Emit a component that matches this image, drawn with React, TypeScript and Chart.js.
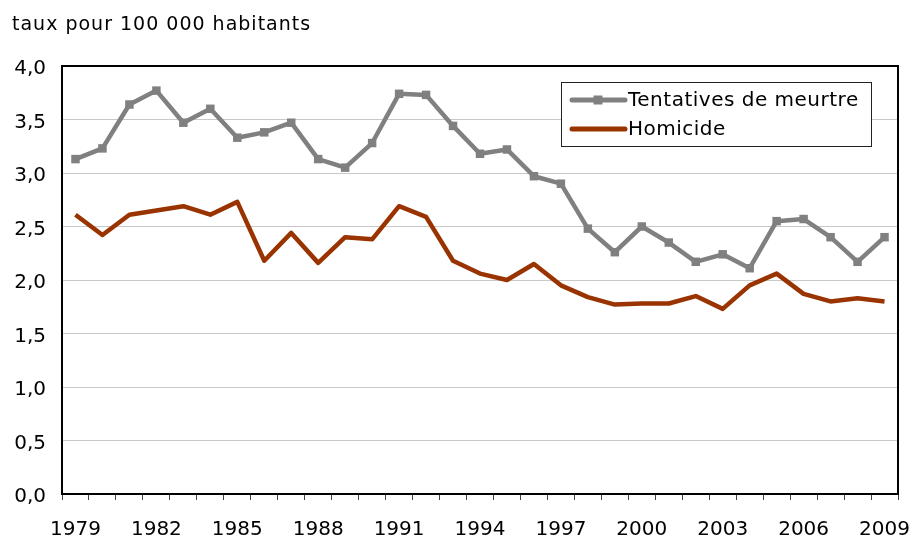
import React, { useEffect, useRef } from "react";
import { Chart, registerables } from "chart.js";

Chart.register(...registerables);

const TITLE = "taux pour 100 000 habitants";
const YEARS: string[] = [
  "1979","1980","1981","1982","1983","1984","1985","1986","1987","1988",
  "1989","1990","1991","1992","1993","1994","1995","1996","1997","1998",
  "1999","2000","2001","2002","2003","2004","2005","2006","2007","2008","2009",
];
const TENTATIVES: number[] = [
  3.13, 3.23, 3.64, 3.77, 3.47, 3.60, 3.33, 3.38, 3.47, 3.13,
  3.05, 3.28, 3.74, 3.73, 3.44, 3.18, 3.22, 2.97, 2.90, 2.48,
  2.26, 2.50, 2.35, 2.17, 2.24, 2.11, 2.55, 2.57, 2.40, 2.17, 2.40,
];
const HOMICIDE: number[] = [
  2.61, 2.42, 2.61, 2.65, 2.69, 2.61, 2.73, 2.18, 2.44, 2.16,
  2.40, 2.38, 2.69, 2.59, 2.18, 2.06, 2.00, 2.15, 1.95, 1.84,
  1.77, 1.78, 1.78, 1.85, 1.73, 1.95, 2.06, 1.87, 1.80, 1.83, 1.80,
];
const SERIES_LABELS = ["Tentatives de meurtre", "Homicide"];
const COLORS = ["#808080", "#993300"];

const FONT = "'DejaVu Sans', Verdana, sans-serif";

const framePlugin = {
  id: "frame",
  beforeDatasetsDraw(chart: any) {
    const { ctx, chartArea: a } = chart;
    ctx.save();
    ctx.strokeStyle = "#000";
    ctx.lineWidth = 2;
    ctx.strokeRect(a.left, a.top, a.right - a.left, a.bottom - a.top);
    ctx.restore();
  },
};

const titlePlugin = {
  id: "customTitle",
  afterDraw(chart: any) {
    const { ctx } = chart;
    ctx.save();
    ctx.font = `19px ${FONT}`;
    (ctx as any).letterSpacing = "1px";
    ctx.fillStyle = "#000";
    ctx.textBaseline = "alphabetic";
    ctx.textAlign = "left";
    ctx.fillText(TITLE, 12, 30);
    ctx.restore();
  },
};

const legendPlugin = {
  id: "customLegend",
  afterDraw(chart: any) {
    const { ctx, chartArea: a } = chart;
    const x0 = a.right - 337;
    const y0 = a.top + 16;
    const w = 310;
    const h = 64;
    ctx.save();
    ctx.fillStyle = "#fff";
    ctx.fillRect(x0, y0, w, h);
    ctx.strokeStyle = "#222";
    ctx.lineWidth = 1;
    ctx.strokeRect(x0 + 0.5, y0 + 0.5, w, h);
    chart.data.datasets.forEach((ds: any, i: number) => {
      const cy = y0 + 18 + i * 29;
      ctx.strokeStyle = ds.borderColor;
      ctx.lineWidth = 5;
      ctx.lineCap = "round";
      ctx.beginPath();
      ctx.moveTo(x0 + 11, cy);
      ctx.lineTo(x0 + 64, cy);
      ctx.stroke();
      if (ds.pointRadius > 0) {
        ctx.fillStyle = ds.pointBackgroundColor;
        ctx.fillRect(x0 + 37 - 4.5, cy - 4.5, 9, 9);
      }
      ctx.fillStyle = "#000";
      ctx.font = `20px ${FONT}`;
      (ctx as any).letterSpacing = "0.5px";
      ctx.textBaseline = "middle";
      ctx.textAlign = "left";
      ctx.fillText(ds.label, x0 + 67, cy + 1);
    });
    ctx.restore();
  },
};

export default function App() {
  const ref = useRef<HTMLCanvasElement | null>(null);
  useEffect(() => {
    if (!ref.current) return;
    const chart = new Chart(ref.current, {
      type: "line",
      data: {
        labels: YEARS,
        datasets: [
          {
            label: SERIES_LABELS[0],
            data: TENTATIVES,
            borderColor: COLORS[0],
            backgroundColor: COLORS[0],
            pointBackgroundColor: COLORS[0],
            pointBorderColor: COLORS[0],
            pointStyle: "rect",
            pointRadius: 6,
            pointBorderWidth: 0,
            borderWidth: 4.5,
            tension: 0,
            borderJoinStyle: "round",
          },
          {
            label: SERIES_LABELS[1],
            data: HOMICIDE,
            borderColor: COLORS[1],
            backgroundColor: COLORS[1],
            pointBackgroundColor: COLORS[1],
            pointRadius: 0,
            borderWidth: 4.5,
            tension: 0,
            borderJoinStyle: "round",
          },
        ],
      },
      options: {
        animation: false,
        responsive: true,
        maintainAspectRatio: false,
        layout: { padding: { top: 66, right: 17, bottom: 0, left: 0 } },
        plugins: {
          legend: { display: false },
          title: { display: false },
          tooltip: { enabled: false },
        },
        scales: {
          x: {
            type: "category",
            offset: true,
            afterFit(scale: any) {
              scale.height = 42;
              scale.paddingLeft = 0;
              scale.paddingRight = 0;
            },
            border: { display: false },
            grid: {
              display: true,
              drawOnChartArea: false,
              drawTicks: true,
              tickLength: 6,
              offset: true,
              color: "#444",
              lineWidth: 1,
            },
            ticks: {
              autoSkip: false,
              maxRotation: 0,
              minRotation: 0,
              padding: 18,
              color: "#000",
              font: { family: FONT, size: 20 },
              callback: (_v: any, i: number) => (i % 3 === 0 ? YEARS[i] : ""),
            },
          },
          y: {
            min: 0,
            max: 4,
            afterFit(scale: any) {
              scale.width = 62;
              scale.paddingTop = 0;
              scale.paddingBottom = 0;
            },
            border: { display: false },
            grid: {
              color: "#c8c8c8",
              lineWidth: 1,
              drawTicks: false,
            },
            ticks: {
              stepSize: 0.5,
              padding: 16,
              labelOffset: 3,
              color: "#000",
              font: { family: FONT, size: 20 },
              callback: (v: any) => Number(v).toFixed(1).replace(".", ","),
            },
          },
        },
      },
      plugins: [framePlugin, titlePlugin, legendPlugin],
    } as any);
    return () => chart.destroy();
  }, []);
  return (
    <div style={{ position: "fixed", left: 0, top: 0, width: 915, height: 536, background: "#fff" }}>
      <canvas ref={ref} />
    </div>
  );
}
